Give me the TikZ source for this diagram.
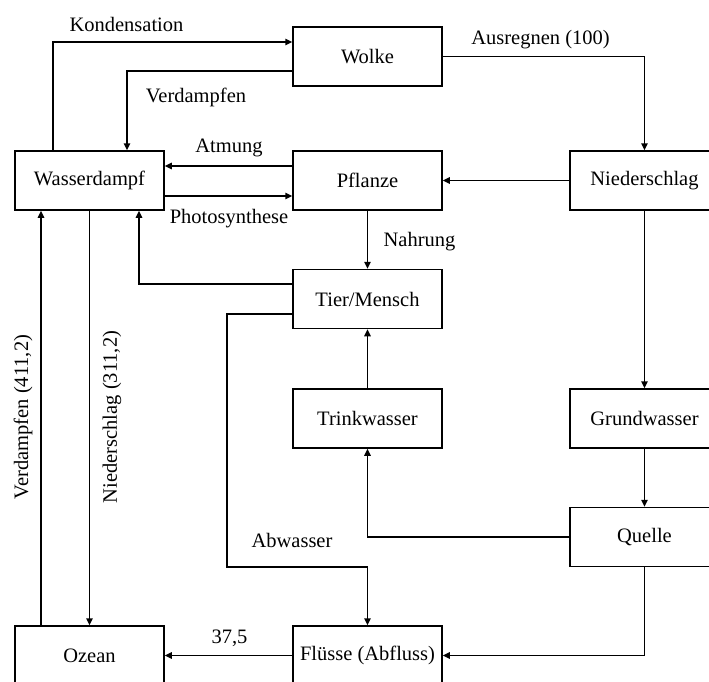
\documentclass[tikz,border=0pt]{standalone}
\usepackage{fontspec}
\setmainfont{Liberation Serif}
\usetikzlibrary{arrows.meta}
\begin{document}
\begin{tikzpicture}[x=1pt,y=-1pt,
  box/.style={draw,line width=1.5pt,minimum width=149pt,minimum height=59pt,inner sep=0pt,font=\fontsize{20.5}{24}\selectfont},
  lbl/.style={inner sep=0pt,font=\fontsize{20.5}{24}\selectfont},
  arr/.style={line width=1.5pt,-{Triangle[length=7pt,width=6.5pt]}}]
\useasboundingbox (0,0) rectangle (709,682);
\node[box] (Wolke) at (367.5,56.5) {Wolke};
\node[box] (Wasserdampf) at (89.5,180.5) {Wasserdampf};
\node[box] (Pflanze) at (367.5,180.5) {Pflanze};
\node[box] (Niederschlag) at (644.5,180.5) {Niederschlag};
\node[box] (Tier) at (367.5,299) {Tier/Mensch};
\node[box] (Trinkwasser) at (367.5,418.5) {Trinkwasser};
\node[box] (Grundwasser) at (644.5,418.5) {Grundwasser};
\node[box] (Quelle) at (644.5,537) {Quelle};
\node[box] (Fluesse) at (367.5,655.5) {Flüsse (Abfluss)};
\node[box] (Ozean) at (89.5,655.5) {Ozean};
% connectors
\draw[arr] ([xshift=-36.5pt]Wasserdampf.north) |- ([yshift=14.5pt]Wolke.west);
\draw[arr] ([yshift=-14.5pt]Wolke.west) -| ([xshift=37.5pt]Wasserdampf.north);
\draw[arr] ([yshift=14.5pt]Pflanze.west) -- ([yshift=14.5pt]Wasserdampf.east);
\draw[arr] ([yshift=-15.5pt]Wasserdampf.east) -- ([yshift=-15.5pt]Pflanze.west);
\draw[arr] ([yshift=15pt]Tier.west) -| ([xshift=49.5pt]Wasserdampf.south);
\draw[arr] (Wolke.east) -| (Niederschlag.north);
\draw[arr] (Niederschlag.west) -- (Pflanze.east);
\draw[arr] (Pflanze.south) -- (Tier.north);
\draw[arr] (Niederschlag.south) -- (Grundwasser.north);
\draw[arr] (Grundwasser.south) -- (Quelle.north);
\draw[arr] (Quelle.west) -| (Trinkwasser.south);
\draw[arr] (Trinkwasser.north) -- (Tier.south);
\draw[arr] (Quelle.south) |- (Fluesse.east);
\coordinate (ab1) at (227,567);
\draw[arr] ([yshift=-15pt]Tier.west) -| (ab1) -| (Fluesse.north);
\draw[arr] (Fluesse.west) -- (Ozean.east);
\draw[arr] (Wasserdampf.south) -- (Ozean.north);
\draw[arr] ([xshift=-48.5pt]Ozean.north) -- ([xshift=-48.5pt]Wasserdampf.south);
% labels
\node[lbl] (lK) at (126.5,24) {Kondensation};
\node[lbl] (lV) at (196,97) {Verdampfen};
\node[lbl] (lA) at (229,148) {Atmung};
\node[lbl] (lP) at (229,219) {Photosynthese};
\node[lbl] (lR) at (540.5,40) {Ausregnen (100)};
\node[lbl] (lN) at (419.5,242) {Nahrung};
\node[lbl] (lAb) at (292,540) {Abwasser};
\node[lbl] (l37) at (229.5,638) {37,5};
\node[lbl,rotate=90] (lVO) at (23,417) {Verdampfen (411,2)};
\node[lbl,rotate=90] (lNO) at (112,417) {Niederschlag (311,2)};
\end{tikzpicture}
\end{document}
